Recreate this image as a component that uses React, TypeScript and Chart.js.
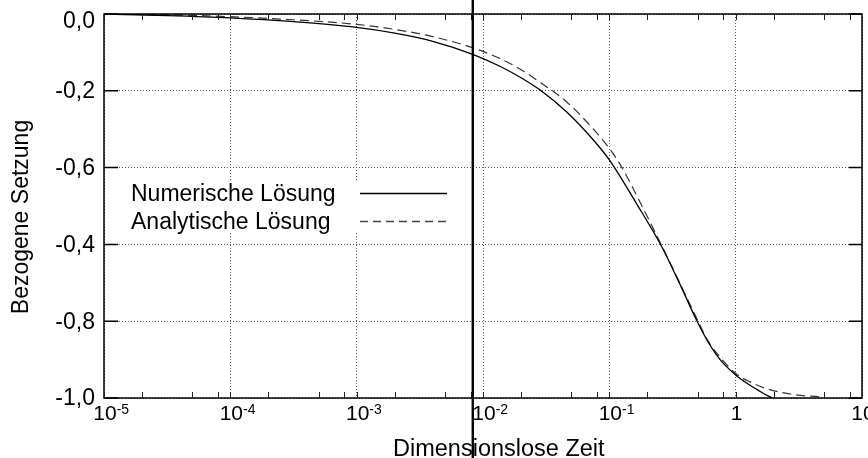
import React, { useEffect, useRef } from "react";
import { Chart, registerables } from "chart.js";

Chart.register(...registerables);

// ---- data ----
const numericX = [1e-5, 3.16e-5, 1e-4, 3.16e-4, 1e-3, 2e-3, 4e-3, 8.3e-3, 1.36e-2, 2e-2, 2.83e-2, 4.6e-2, 7.48e-2, 0.1, 0.165, 0.257, 0.352, 0.495, 0.62, 0.753, 1.0, 1.3, 1.6, 1.94];
const numericY = [0, -0.004, -0.01, -0.02, -0.035, -0.05, -0.071, -0.105, -0.136, -0.166, -0.198, -0.255, -0.328, -0.38, -0.495, -0.603, -0.695, -0.8, -0.86, -0.9, -0.94, -0.967, -0.985, -1.0];

const analyticX = [1e-5, 3.16e-5, 1e-4, 3.16e-4, 1e-3, 2e-3, 4e-3, 8.3e-3, 1.36e-2, 2e-2, 2.83e-2, 4.6e-2, 7.48e-2, 0.1, 0.125, 0.175, 0.257, 0.352, 0.504, 0.6, 0.76, 1.0, 1.3, 1.77, 2.85, 4.67, 5.0];
const analyticY = [0, -0.002, -0.007, -0.015, -0.027, -0.04, -0.059, -0.088, -0.116, -0.145, -0.178, -0.229, -0.3, -0.35, -0.398, -0.49, -0.6, -0.693, -0.8, -0.85, -0.895, -0.936, -0.958, -0.976, -0.991, -0.997, -0.998];

const xTickValues = [1e-5, 1e-4, 1e-3, 1e-2, 1e-1, 1, 10];
const xTickBase = ["10", "10", "10", "10", "10", "1", "10"];
const xTickExp = ["-5", "-4", "-3", "-2", "-1", "", "1"];
const xMinorFactors = [2, 5, 8];

const yTickValues = [0, -0.2, -0.4, -0.6, -0.8, -1.0];
const yTickLabels = ["0,0", "-0,2", "-0,6", "-0,4", "-0,8", "-1,0"];

const markerX = 0.0083; // thick vertical line
const seriesNames = ["Numerische Lösung", "Analytische Lösung"];
const xTitle = "Dimensionslose Zeit";
const yTitle = "Bezogene Setzung";

const FONT = "'Liberation Sans', Arial, Helvetica, sans-serif";

const drawPlugin = {
  id: "customDraw",
  afterDraw(chart: any) {
    const ctx = chart.ctx as CanvasRenderingContext2D;
    const xs = chart.scales.x;
    const ys = chart.scales.y;
    const area = chart.chartArea;
    ctx.save();

    // legend background (hides grid lines)
    ctx.fillStyle = "#ffffff";
    ctx.fillRect(116, 182, 338, 49);

    // legend
    ctx.fillStyle = "#000";
    ctx.font = `23px ${FONT}`;
    ctx.textAlign = "left";
    ctx.textBaseline = "alphabetic";
    ctx.fillText(seriesNames[0], 131, 201);
    ctx.fillText(seriesNames[1], 131, 229);
    ctx.lineWidth = 1.3;
    ctx.strokeStyle = "#000";
    ctx.setLineDash([]);
    ctx.beginPath();
    ctx.moveTo(360, 193.5);
    ctx.lineTo(447, 193.5);
    ctx.stroke();
    ctx.strokeStyle = "#444";
    ctx.setLineDash([8, 5]);
    ctx.beginPath();
    ctx.moveTo(360, 221.5);
    ctx.lineTo(447, 221.5);
    ctx.stroke();
    ctx.setLineDash([]);

    // frame
    ctx.strokeStyle = "#000";
    ctx.lineWidth = 1.5;
    ctx.strokeRect(area.left, area.top, area.right - area.left, area.bottom - area.top);

    // x ticks (inside, top and bottom)
    ctx.lineWidth = 1;
    ctx.strokeStyle = "#222";
    for (let d = -5; d < 1; d++) {
      const base = Math.pow(10, d);
      const vals = [base, ...xMinorFactors.map((f) => f * base)];
      for (const v of vals) {
        const px = Math.round(xs.getPixelForValue(v)) + 0.5;
        ctx.beginPath();
        ctx.moveTo(px, area.bottom);
        ctx.lineTo(px, area.bottom - 6);
        ctx.moveTo(px, area.top);
        ctx.lineTo(px, area.top + 6);
        ctx.stroke();
      }
    }
    // y ticks (inside, left and right)
    ctx.lineWidth = 1.5;
    ctx.strokeStyle = "#000";
    for (const v of yTickValues) {
      const py = ys.getPixelForValue(v);
      ctx.beginPath();
      ctx.moveTo(area.left, py);
      ctx.lineTo(area.left + 14, py);
      ctx.moveTo(area.right, py);
      ctx.lineTo(area.right - 13, py);
      ctx.stroke();
    }

    // y tick labels
    ctx.fillStyle = "#000";
    ctx.font = `23px ${FONT}`;
    ctx.textAlign = "right";
    ctx.textBaseline = "middle";
    yTickValues.forEach((v, i) => {
      let py = ys.getPixelForValue(v);
      if (i === 0) py += 7;
      ctx.fillText(yTickLabels[i], 95, py + 1);
    });

    // x tick labels with superscripts
    ctx.textBaseline = "alphabetic";
    xTickValues.forEach((v, i) => {
      const px = xs.getPixelForValue(v);
      ctx.font = `21px ${FONT}`;
      ctx.textAlign = "center";
      ctx.fillText(xTickBase[i], px + 1, 420);
      const w = ctx.measureText(xTickBase[i]).width;
      if (xTickExp[i]) {
        ctx.font = `14px ${FONT}`;
        ctx.textAlign = "left";
        ctx.fillText(xTickExp[i], px + 1 + w / 2, 414);
      }
    });

    // axis titles
    ctx.font = `23.5px ${FONT}`;
    ctx.textAlign = "left";
    ctx.fillText(xTitle, 393, 456);
    ctx.font = `23px ${FONT}`;
    ctx.textAlign = "center";
    ctx.save();
    ctx.translate(28, 217);
    ctx.rotate(-Math.PI / 2);
    ctx.fillText(yTitle, 0, 0);
    ctx.restore();

    // thick vertical marker line
    const mx = xs.getPixelForValue(markerX);
    ctx.strokeStyle = "#000";
    ctx.lineWidth = 2.4;
    ctx.beginPath();
    ctx.moveTo(mx, 0);
    ctx.lineTo(mx, chart.height);
    ctx.stroke();

    ctx.restore();
  },
};

export default function App() {
  const ref = useRef<HTMLCanvasElement | null>(null);

  useEffect(() => {
    if (!ref.current) return;
    const chart = new Chart(ref.current, {
      type: "line",
      data: {
        datasets: [
          {
            label: seriesNames[0],
            data: numericX.map((x, i) => ({ x, y: numericY[i] })),
            borderColor: "#000",
            borderWidth: 1.3,
            pointRadius: 0,
            fill: false,
            cubicInterpolationMode: "monotone",
          },
          {
            label: seriesNames[1],
            data: analyticX.map((x, i) => ({ x, y: analyticY[i] })),
            borderColor: "#333",
            borderWidth: 1.2,
            borderDash: [9, 5],
            pointRadius: 0,
            fill: false,
            cubicInterpolationMode: "monotone",
          },
        ],
      },
      options: {
        responsive: false,
        animation: false,
        layout: { padding: { top: 14, right: 6, left: 0, bottom: 0 } },
        plugins: { legend: { display: false }, tooltip: { enabled: false } },
        scales: {
          x: {
            type: "logarithmic",
            min: 1e-5,
            max: 10,
            afterBuildTicks: (scale: any) => {
              scale.ticks = xTickValues.map((v) => ({ value: v }));
            },
            afterFit: (scale: any) => {
              scale.height = 60;
            },
            ticks: { display: false },
            grid: { color: "#555", lineWidth: 1, drawTicks: false },
            border: { display: false, dash: [1, 2] },
          },
          y: {
            type: "linear",
            min: -1,
            max: 0,
            afterBuildTicks: (scale: any) => {
              scale.ticks = yTickValues.map((v) => ({ value: v }));
            },
            afterFit: (scale: any) => {
              scale.width = 104;
            },
            ticks: { display: false },
            grid: { color: "#555", lineWidth: 1, drawTicks: false },
            border: { display: false, dash: [1, 2] },
          },
        },
      },
      plugins: [drawPlugin],
    } as any);
    return () => chart.destroy();
  }, []);

  return (
    <div style={{ position: "fixed", left: 0, top: 0, width: 868, height: 458, background: "#fff" }}>
      <canvas ref={ref} width={868} height={458} style={{ display: "block" }} />
    </div>
  );
}
